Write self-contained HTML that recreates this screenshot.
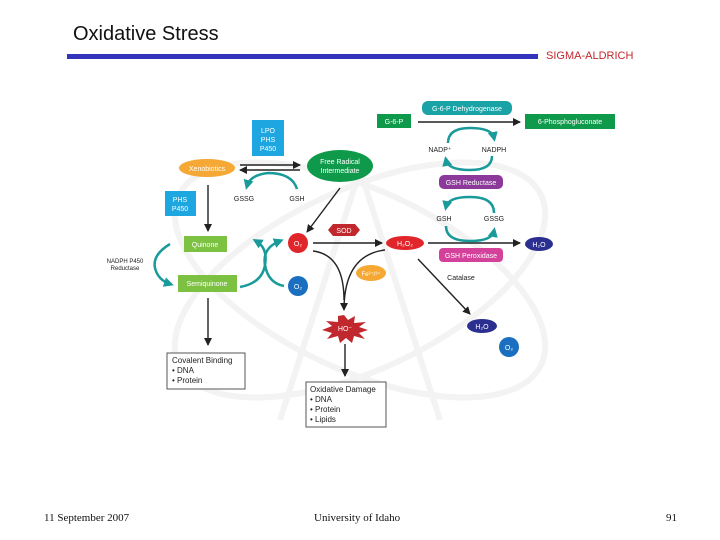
<!DOCTYPE html>
<html><head><meta charset="utf-8"><style>
html,body{margin:0;padding:0;background:#fff;width:720px;height:540px;overflow:hidden}
svg{display:block}
text{font-family:"Liberation Sans",sans-serif}
text.serif{font-family:"Liberation Serif",serif}
</style></head><body>
<svg width="720" height="540" viewBox="0 0 720 540" xmlns="http://www.w3.org/2000/svg">
<defs>
<marker id="ab" markerWidth="8" markerHeight="8" refX="7" refY="4" orient="auto" markerUnits="userSpaceOnUse"><path d="M0,0 L8,4 L0,8 z" fill="#222"/></marker>
<marker id="at" markerWidth="10" markerHeight="10" refX="6" refY="5" orient="auto" markerUnits="userSpaceOnUse"><path d="M0,0 L10,5 L0,10 z" fill="#1a9a9a"/></marker>
</defs>
<g fill="none" stroke="#f3f3f3" stroke-width="6">
<ellipse cx="360" cy="280" rx="200" ry="90" transform="rotate(-25 360 280)"/>
<ellipse cx="360" cy="280" rx="200" ry="90" transform="rotate(25 360 280)"/>
<path d="M280 420 L360 170 L440 420"/>
</g>
<text x="73" y="40" font-size="20" fill="#111">Oxidative Stress</text>
<rect x="67" y="54" width="471" height="5" fill="#3333bb"/>
<text x="546" y="59" font-size="11" fill="#c0282e">SIGMA-ALDRICH</text>

<g font-size="7" fill="#fff" text-anchor="middle">
<rect x="377" y="114" width="34" height="14" fill="#0e9a4a"/><text x="394" y="124">G-6-P</text>
<rect x="422" y="101" width="90" height="14" rx="6" fill="#1aa3a6"/><text x="467" y="111">G-6-P Dehydrogenase</text>
<rect x="525" y="114" width="90" height="15" fill="#0e9a4a"/><text x="570" y="124">6-Phosphogluconate</text>
<rect x="439" y="175" width="64" height="14" rx="5" fill="#8b3a9a"/><text x="471" y="185">GSH Reductase</text>
<ellipse cx="405" cy="243" rx="19" ry="7" fill="#e0262b"/><text x="405" y="246">H₂O₂</text>
<ellipse cx="539" cy="244" rx="14" ry="7" fill="#2b2f8f"/><text x="539" y="247">H₂O</text>
<rect x="439" y="248" width="64" height="14" rx="4" fill="#d4419a"/><text x="471" y="258">GSH Peroxidase</text>
<ellipse cx="482" cy="326" rx="15" ry="7" fill="#2b2f8f"/><text x="482" y="329">H₂O</text>
<circle cx="509" cy="347" r="10" fill="#1a6fc0"/><text x="509" y="350">O₂</text>
<rect x="252" y="120" width="32" height="36" fill="#1ea6e0"/><text x="268" y="133">LPO</text><text x="268" y="142">PHS</text><text x="268" y="151">P450</text>
<ellipse cx="207" cy="168" rx="28" ry="9" fill="#f5a834"/><text x="207" y="171">Xenobiotics</text>
<ellipse cx="340" cy="166" rx="33" ry="16" fill="#0e9a4a"/><text x="340" y="164">Free Radical</text><text x="340" y="173">Intermediate</text>
<rect x="165" y="191" width="31" height="25" fill="#1ea6e0"/><text x="180" y="202">PHS</text><text x="180" y="211">P450</text>
<rect x="184" y="236" width="43" height="16" fill="#7dc142"/><text x="205" y="247">Quinone</text>
<rect x="178" y="275" width="59" height="17" fill="#7dc142"/><text x="207" y="286">Semiquinone</text>
<circle cx="298" cy="243" r="10" fill="#e0262b"/><text x="298" y="246">O₂</text>
<circle cx="298" cy="286" r="10" fill="#1a6fc0"/><text x="298" y="289">O₂</text>
<polygon points="333,224 355,224 360,230 355,236 333,236 328,230" fill="#c0282e"/><text x="344" y="233">SOD</text>
<ellipse cx="371" cy="273" rx="15" ry="8" fill="#f5a834"/><text x="371" y="276" font-size="6">Fe²⁺/³⁺</text>
<polygon points="344,315 348,320 355,316 354,323 366,322 359,327 368,330 359,333 365,339 354,336 352,343 346,338 340,343 338,336 327,339 332,333 322,330 332,326 326,321 338,322 338,316" fill="#c0282e"/><text x="345" y="331">HO⁻</text>
</g>
<g font-size="7" fill="#222" text-anchor="middle">
<text x="440" y="152">NADP⁺</text><text x="494" y="152">NADPH</text>
<text x="444" y="221">GSH</text><text x="494" y="221">GSSG</text>
<text x="461" y="280">Catalase</text>
<text x="244" y="201">GSSG</text><text x="297" y="201">GSH</text>
<text x="125" y="263" font-size="6">NADPH P450</text><text x="125" y="270" font-size="6">Reductase</text>
</g>
<g stroke="#222" stroke-width="1.4" fill="none">
<line x1="418" y1="122" x2="520" y2="122" marker-end="url(#ab)"/>
<line x1="428" y1="243" x2="520" y2="243" marker-end="url(#ab)"/>
<line x1="418" y1="259" x2="470" y2="314" marker-end="url(#ab)"/>
<line x1="240" y1="165" x2="300" y2="165" marker-end="url(#ab)"/>
<line x1="300" y1="170" x2="240" y2="170" marker-end="url(#ab)"/>
<line x1="208" y1="185" x2="208" y2="231" marker-end="url(#ab)"/>
<line x1="340" y1="188" x2="307" y2="232" marker-end="url(#ab)"/>
<line x1="313" y1="243" x2="382" y2="243" marker-end="url(#ab)"/>
<path d="M313 251 Q344 255 344 300"/>
<path d="M385 250 Q344 255 344 310" marker-end="url(#ab)"/>
<line x1="345" y1="344" x2="345" y2="376" marker-end="url(#ab)"/>
<line x1="208" y1="298" x2="208" y2="345" marker-end="url(#ab)"/>
</g>
<g stroke="#1a9a9a" stroke-width="2.5" fill="none">
<path d="M448 143 Q448 128 470 128 Q492 128 494 138" marker-end="url(#at)"/>
<path d="M492 156 Q492 170 470 170 Q448 170 446 160" marker-end="url(#at)"/>
<path d="M494 213 Q494 197 470 197 Q448 197 446 207" marker-end="url(#at)"/>
<path d="M446 226 Q446 241 470 241 Q492 241 494 231" marker-end="url(#at)"/>
<path d="M297 189 Q292 173 268 173 Q250 175 247 186" marker-end="url(#at)"/>
<path d="M240 287 Q262 283 265 265 Q268 248 256 241" marker-end="url(#at)"/>
<path d="M284 286 Q268 283 265 265 Q262 248 280 241" marker-end="url(#at)"/>
<path d="M170 244 Q152 255 155 268 Q158 280 170 284" marker-end="url(#at)"/>
</g>
<g stroke="#555" stroke-width="1" fill="#fff">
<rect x="167" y="353" width="78" height="36"/>
<rect x="306" y="382" width="80" height="45"/>
</g>
<g font-size="8" fill="#222">
<text x="172" y="363">Covalent Binding</text><text x="172" y="373">• DNA</text><text x="172" y="383">• Protein</text>
<text x="310" y="392">Oxidative Damage</text><text x="310" y="402">• DNA</text><text x="310" y="412">• Protein</text><text x="310" y="422">• Lipids</text>
</g>
<g font-size="11" fill="#111">
<text class="serif" x="44" y="521">11 September 2007</text>
<text class="serif" x="314" y="521">University of Idaho</text>
<text class="serif" x="666" y="521">91</text>
</g>
</svg>
</body></html>
